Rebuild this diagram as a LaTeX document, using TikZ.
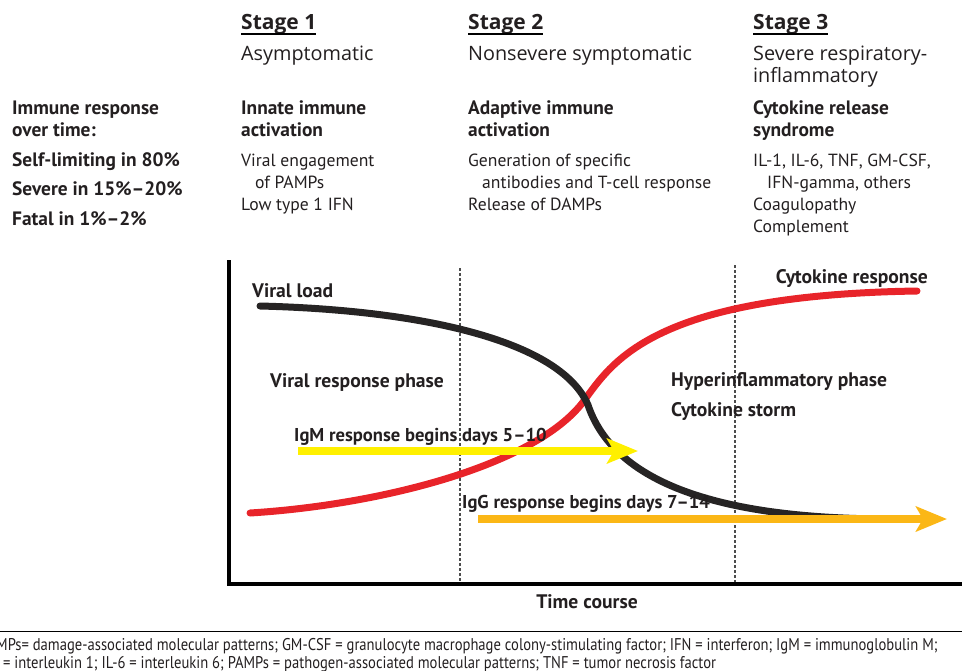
\documentclass[tikz,border=0pt]{standalone}
\usepackage{fontspec}
\setmainfont{PT Sans}
\newfontfamily\narrowfont[FakeStretch=0.86,Ligatures=TeX]{PT Sans}
\newfontfamily\widefont[Ligatures=TeX]{Open Sans}
\usetikzlibrary{arrows.meta,positioning,calc}

\definecolor{inkblack}{RGB}{35,31,32}
\definecolor{cytored}{RGB}{232,36,42}
\definecolor{loadgray}{RGB}{38,36,36}
\definecolor{igmyellow}{RGB}{255,240,0}
\definecolor{iggorange}{RGB}{251,183,22}

\begin{document}
\begin{tikzpicture}[x=1pt,y=-1pt,inner sep=0pt,text=inkblack]

   \tikzstyle{stagehead}=[anchor=base west,font=\widefont\fontsize{21}{22}\selectfont\bfseries]
   \tikzstyle{stagename}=[anchor=base west,align=left,font=\widefont\fontsize{19.8}{22}\selectfont]
   \tikzstyle{boldtext}=[anchor=base west,align=left,font=\fontsize{19.4}{22}\selectfont\bfseries]
   \tikzstyle{plaintext}=[anchor=base west,align=left,font=\fontsize{17.6}{22}\selectfont]
   \tikzstyle{chartlabel}=[anchor=base west,font=\fontsize{19.6}{22}\selectfont\bfseries]
   \tikzstyle{daylabel}=[anchor=base west,font=\fontsize{18.6}{22}\selectfont\bfseries]
   \tikzstyle{curve}=[line width=7pt,line cap=round]
   \tikzstyle{response}=[line width=8pt,-{Stealth[length=31pt,width=25pt,inset=7pt]}]
   \tikzstyle{phase}=[gray!60!black,line width=1.2pt,dash pattern=on 2.5pt off 2.5pt]

   \useasboundingbox (0,0) rectangle (962,670);

   % left column (multi-line nodes sit on the baseline of their last line)
   \node[boldtext] (immune) at (12,136) {Immune response\\over time:};
   \node[boldtext] (self)   at (12,166) {Self-limiting in 80\%};
   \node[boldtext] (severe) at (12,195) {Severe in 15\%--20\%};
   \node[boldtext] (fatal)  at (12,225) {Fatal in 1\%--2\%};

   % the three stages
   \node[stagehead] (s1) at (241,29) {Stage 1};
   \node[stagehead] (s2) at (468,29) {Stage 2};
   \node[stagehead] (s3) at (753,29) {Stage 3};
   \foreach \s in {s1,s2,s3}
      \draw[line width=1.8pt] ([yshift=-5pt]\s.base west) -- ([yshift=-5pt]\s.base east);

   \node[stagename] (n1) at (241,60) {Asymptomatic};
   \node[stagename] (n2) at (468,60) {Nonsevere symptomatic};
   \node[stagename] (n3) at (753,82) {Severe respiratory-\\inflammatory};

   \node[boldtext] (a1) at (241,136) {Innate immune\\activation};
   \node[boldtext] (a2) at (468,136) {Adaptive immune\\activation};
   \node[boldtext] (a3) at (753,136) {Cytokine release\\syndrome};

   \node[plaintext] (d1) at (241,210) {Viral engagement\\\hspace*{14pt}of PAMPs\\Low type 1 IFN};
   \node[plaintext] (d2) at (468,210) {Generation of specific\\\hspace*{14pt}antibodies and T-cell response\\Release of DAMPs};
   \node[plaintext] (d3) at (753,232) {IL-1, IL-6, TNF, GM-CSF,\\\hspace*{14pt}IFN-gamma, others\\Coagulopathy\\Complement};

   % axes and stage borders
   \coordinate (ytop)   at (229,260);
   \coordinate (origin) at (229,584);
   \coordinate (xend)   at (962,584);
   \draw[phase] (460,268) -- (460,584);
   \draw[phase] (735,265) -- (735,584);
   \draw[line width=3.5pt,line join=miter] (ytop) -- (origin) -- (xend);

   % cytokine response and viral load
   \draw[curve,cytored] (250,513) .. controls (380,505) and (540,465) .. (586,398)
                         .. controls (615,358) and (660,295) .. (917,291);
   \draw[curve,loadgray] (260,306) .. controls (420,310) and (560,340) .. (588,405)
                          .. controls (610,470) and (690,518) .. (885,519);

   % antibody responses
   \coordinate (igmS) at (298,451);
   \coordinate (igmE) at (638,451);
   \coordinate (iggS) at (478,519);
   \coordinate (iggE) at (947,519);
   \draw[response,igmyellow] (igmS) -- (igmE);
   \draw[response,iggorange] (iggS) -- (iggE);

   \node[chartlabel] (vload)  at (252,297) {Viral load};
   \node[chartlabel,anchor=base east] (cyto) at (928,283) {Cytokine response};
   \node[chartlabel] (vphase) at (270,387) {Viral response phase};
   \node[chartlabel] (hphase) at (671,386) {Hyperinflammatory phase};
   \node[chartlabel] (storm)  at (671,416) {Cytokine storm};
   \node[daylabel]   (igm)    at (294,441) {IgM response begins days 5--10};
   \node[daylabel]   (igg)    at (462,508) {IgG response begins days 7--14};
   \node[chartlabel,anchor=base] (time) at (587,608) {Time course};

   % abbreviations
   \draw[line width=1pt] (0,631) -- (962,631);
   \node[anchor=base west,align=left,font=\narrowfont\fontsize{17}{18}\selectfont] (abbr) at (-4,668)
      {MPs= damage-associated molecular patterns; GM-CSF = granulocyte macrophage colony-stimulating factor; IFN = interferon; IgM = immunoglobulin M;\\
       \hspace*{7pt}= interleukin 1; IL-6 = interleukin 6; PAMPs = pathogen-associated molecular patterns; TNF = tumor necrosis factor};

\end{tikzpicture}
\end{document}
